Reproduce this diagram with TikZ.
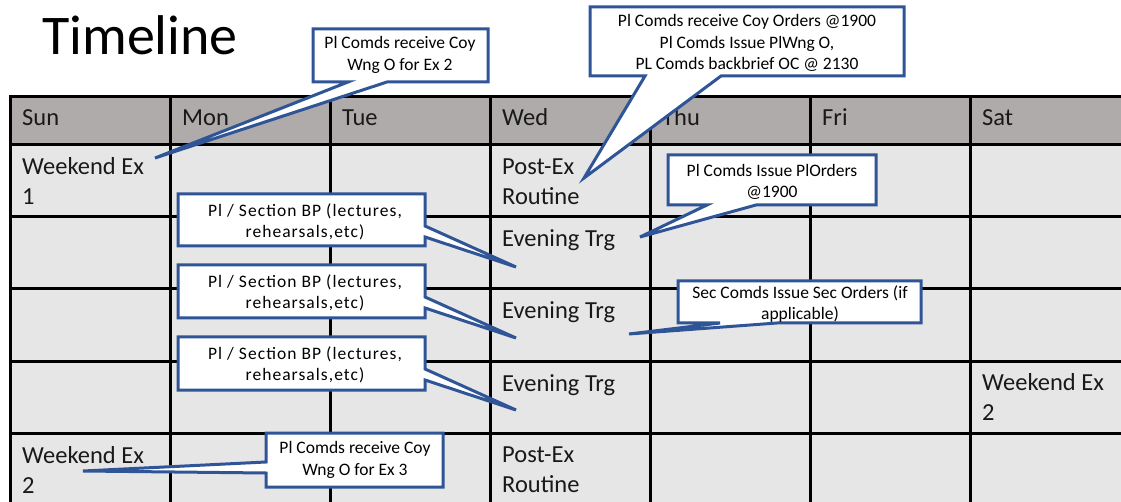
\documentclass[tikz,border=0pt]{standalone}
\usepackage{fontspec}
\setmainfont{Carlito}
\newfontfamily\spacedfont[LetterSpace=6]{Carlito}
\definecolor{hdrgray}{RGB}{175,171,171}
\definecolor{bodygray}{RGB}{231,230,230}
\definecolor{cblue}{RGB}{47,85,151}
\definecolor{txtdark}{RGB}{25,25,25}
\tikzset{
  gridline/.style={line width=3pt, black, line cap=rect},
  celltxt/.style={anchor=base west, inner sep=0pt, text=txtdark, font=\fontsize{24.5}{30}\selectfont, align=left},
  callout/.style={draw=cblue, line width=3pt, fill=white, line join=miter},
  calltxt/.style={inner sep=0pt, text=black, font=\fontsize{17.5}{21.5}\selectfont, align=center}
}
\begin{document}
\begin{tikzpicture}[x=1pt,y=-1pt]
\useasboundingbox (0,0) rectangle (1121,502);
% table
\begin{scope}
\clip (0,0) rectangle (1121,502);
\fill[hdrgray] (10,97) rectangle (1140,145);
\fill[bodygray] (10,145) rectangle (1140,512);
\foreach \x in {10,170,330,490,650,810,970} \draw[gridline] (\x,97) -- (\x,512);
\foreach \y in {97,145,217,289,361,433} \draw[gridline] (10,\y) -- (1140,\y);
\end{scope}
% title
\node[anchor=base west, inner sep=0pt, font=\fontsize{56}{60}\selectfont] (title) at (42,55) {Timeline};
% header
\node[celltxt] (hsun) at (22,126) {Sun};
\node[celltxt] (hmon) at (182,126) {Mon};
\node[celltxt] (htue) at (342,126) {Tue};
\node[celltxt] (hwed) at (502,126) {Wed};
\node[celltxt] (hthu) at (662,126) {Thu};
\node[celltxt] (hfri) at (822,126) {Fri};
\node[celltxt] (hsat) at (982,126) {Sat};
% cells (base anchor = baseline of last line)
\node[celltxt] (wk1) at (22,205) {Weekend Ex\\1};
\node[celltxt] (post1) at (502,205) {Post-Ex\\Routine};
\node[celltxt] (ev1) at (502,247) {Evening Trg};
\node[celltxt] (ev2) at (502,319) {Evening Trg};
\node[celltxt] (ev3) at (502,391) {Evening Trg};
\node[celltxt] (wk2sat) at (982,420) {Weekend Ex\\2};
\node[celltxt] (wk2sun) at (22,493) {Weekend Ex\\2};
\node[celltxt] (post2) at (502,492) {Post-Ex\\Routine};
% callout A
\draw[callout] (313,29) -- (488,29) -- (488,82) -- (387,82) -- (155,158) -- (348,82) -- (313,82) -- cycle;
\node[calltxt] (ca) at (400,55) {Pl Comds receive Coy\\Wng O for Ex 2};
% callout B
\draw[callout] (590,7) -- (904,7) -- (904,76) -- (721,76) -- (584,178) -- (645,76) -- (590,76) -- cycle;
\node[calltxt] (cb) at (747,43) {Pl Comds receive Coy Orders @1900\\Pl Comds Issue PlWng O,\\PL Comds backbrief OC @ 2130};
% callout C
\draw[callout] (668,155) -- (876,155) -- (876,205) -- (756,205) -- (640,237) -- (707,205) -- (668,205) -- cycle;
\node[calltxt] (cc) at (772,182) {Pl Comds Issue PlOrders\\@1900};
% callouts D
\draw[callout] (178,194) -- (425,194) -- (425,226) -- (516,267) -- (425,237) -- (425,246) -- (178,246) -- cycle;
\node[calltxt, font=\spacedfont\fontsize{17.5}{21.5}\selectfont] (cd1) at (305,222) {Pl / Section BP (lectures,\\rehearsals,etc)};
\draw[callout] (178,265) -- (425,265) -- (425,297) -- (516,338) -- (425,308) -- (425,318) -- (178,318) -- cycle;
\node[calltxt, font=\spacedfont\fontsize{17.5}{21.5}\selectfont] (cd2) at (305,293) {Pl / Section BP (lectures,\\rehearsals,etc)};
\draw[callout] (178,337) -- (425,337) -- (425,369) -- (516,410) -- (425,380) -- (425,390) -- (178,390) -- cycle;
\node[calltxt, font=\spacedfont\fontsize{17.5}{21.5}\selectfont] (cd3) at (305,365) {Pl / Section BP (lectures,\\rehearsals,etc)};
% callout E
\draw[callout] (678,281) -- (921,281) -- (921,323) -- (777,323) -- (629,334) -- (720,323) -- (678,323) -- cycle;
\node[calltxt] (ce) at (800,304) {Sec Comds Issue Sec Orders (if\\applicable)};
% callout F
\draw[callout] (266,433) -- (443,433) -- (443,487) -- (266,487) -- (266,473) -- (83,471) -- (266,462) -- cycle;
\node[calltxt] (cf) at (355,460) {Pl Comds receive Coy\\Wng O for Ex 3};
\end{tikzpicture}
\end{document}
